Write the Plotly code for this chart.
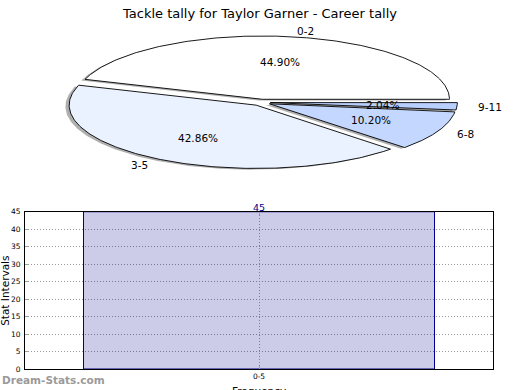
import numpy as np
import plotly.graph_objects as go

# ---- data ----
title_text = "Tackle tally for Taylor Garner - Career tally"
pie_labels = ["0-2", "3-5", "6-8", "9-11"]
pie_counts = [22, 21, 5, 1]
pie_colors = ["#FFFFFF", "#EAF1FF", "#C4D8FF", "#B9D0FF"]

bar_categories = ["0-5"]
bar_values = [45]
y_ticks = list(range(0, 50, 5))

FONT = "DejaVu Sans"
L, R, T, B = 25, 27, 0, 21
W, H = 520 - L - R, 390 - T - B   # plot area in px


def py(pix):   # pixel row (from top) -> paper y
    return (H + T - pix) / H


def px(pix):   # pixel column -> paper x
    return (pix - L) / W


fig = go.Figure()

# ---- pie (drawn as elliptical wedges on its own axes) ----
total = sum(pie_counts)
fracs = [c / total for c in pie_counts]
explode = 0.05
start = 0.0
wedges = []
for lab, frac, col in zip(pie_labels, fracs, pie_colors):
    t1 = start
    t2 = start + 360.0 * frac
    mid = np.deg2rad((t1 + t2) / 2)
    cx, cy = explode * np.cos(mid), explode * np.sin(mid)
    th = np.deg2rad(np.linspace(t1, t2, 200))
    xs = np.concatenate([[cx], cx + np.cos(th), [cx]])
    ys = np.concatenate([[cy], cy + np.sin(th), [cy]])
    wedges.append((lab, frac, col, xs, ys, cx, cy, mid))
    start = t2

# shadows first
sdx, sdy = -0.02, -0.02
for lab, frac, col, xs, ys, cx, cy, mid in wedges:
    fig.add_trace(go.Scatter(x=xs + sdx, y=ys + sdy, mode="lines", fill="toself",
                             fillcolor="rgba(77,77,77,0.45)", line=dict(width=0),
                             xaxis="x2", yaxis="y2", hoverinfo="skip", showlegend=False))
for lab, frac, col, xs, ys, cx, cy, mid in wedges:
    fig.add_trace(go.Scatter(x=xs, y=ys, mode="lines", fill="toself",
                             fillcolor=col, line=dict(color="black", width=0.9),
                             xaxis="x2", yaxis="y2", hoverinfo="skip", showlegend=False))

annotations = []
for lab, frac, col, xs, ys, cx, cy, mid in wedges:
    lx = cx + 1.1 * np.cos(mid)
    ly = cy + 1.1 * np.sin(mid)
    annotations.append(dict(x=lx, y=ly, xref="x2", yref="y2", text=lab, showarrow=False,
                            xanchor="left" if lx > 0 else "right", yanchor="middle",
                            font=dict(family=FONT, size=10.5, color="black")))
    pxx = cx + 0.6 * np.cos(mid)
    pyy = cy + 0.6 * np.sin(mid)
    annotations.append(dict(x=pxx, y=pyy, xref="x2", yref="y2", text=f"{100*frac:.2f}%",
                            showarrow=False, xanchor="center", yanchor="middle",
                            font=dict(family=FONT, size=10.5, color="black")))

# ---- bar chart ----
fig.add_trace(go.Bar(x=[0], y=bar_values, width=0.75,
                     marker=dict(color="rgba(0,0,139,0.2)", line=dict(color="#00008B", width=1)),
                     xaxis="x", yaxis="y", hoverinfo="skip", showlegend=False))
for v in bar_values:
    annotations.append(dict(x=0, y=v, xref="x", yref="y", text=str(v), showarrow=False,
                            yanchor="bottom", yshift=-3,
                            font=dict(family=FONT, size=9.5, color="#00008B")))

annotations += [
    dict(x=px(259), y=py(10), xref="paper", yref="paper", text=title_text, showarrow=False,
         xanchor="center", yanchor="middle", font=dict(family=FONT, size=13, color="black")),
    dict(x=px(5), y=py(290), xref="paper", yref="paper", text="Stat Intervals",
         textangle=-90, showarrow=False, xanchor="center", yanchor="middle",
         font=dict(family=FONT, size=10.5, color="black")),
    dict(x=px(259), y=py(383), xref="paper", yref="paper", text="Frequency",
         showarrow=False, xanchor="center", yanchor="top",
         font=dict(family=FONT, size=10.5, color="black")),
    dict(x=px(0), y=py(380), xref="paper", yref="paper", text="<b>Dream-Stats.com</b>",
         showarrow=False, xanchor="left", yanchor="middle",
         font=dict(family=FONT, size=10.5, color="#9a9a9a")),
]

grid_dash = "1px,2px"
fig.update_layout(
    width=520, height=390,
    margin=dict(l=L, r=R, t=T, b=B),
    paper_bgcolor="white", plot_bgcolor="white",
    showlegend=False,
    annotations=annotations,
    xaxis=dict(domain=[0, 1], range=[-0.5, 0.5], tickvals=[0], ticktext=bar_categories,
               showgrid=True, gridcolor="#999999", griddash=grid_dash, gridwidth=1,
               showline=True, linecolor="black", linewidth=1, mirror="ticks",
               ticks="inside", ticklen=3, tickcolor="#a0a0a0", zeroline=False,
               tickfont=dict(family=FONT, size=7.5, color="black"), fixedrange=True),
    yaxis=dict(domain=[0, py(210)], range=[0, 45],
               tickvals=y_ticks, showgrid=True, gridcolor="#999999", griddash=grid_dash, gridwidth=1,
               showline=True, linecolor="black", linewidth=1, mirror="ticks",
               ticks="inside", ticklen=3, tickcolor="#a0a0a0", zeroline=False,
               tickfont=dict(family=FONT, size=7.5, color="black"), ticklabelstandoff=2,
               fixedrange=True),
    xaxis2=dict(domain=[0, 1], anchor="y2", range=[-(261 - L) / 187, (L + W - 261) / 187],
                visible=False, fixedrange=True),
    yaxis2=dict(domain=[py(180), py(20)], anchor="x2",
                range=[-(180 - 99.5) / 64, (99.5 - 20) / 64], visible=False, fixedrange=True),
)

fig.write_html("out.html", config={"displayModeBar": False},
               post_script="document.body.style.margin='0';document.body.style.overflow='hidden';")
